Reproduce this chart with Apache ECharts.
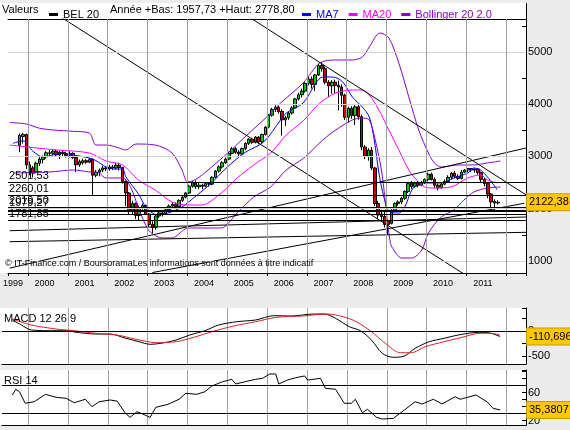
<!DOCTYPE html>
<html>
<head>
<meta charset="utf-8">
<script src="https://cdn.jsdelivr.net/npm/echarts@6/dist/echarts.min.js"></script>
<style>
  html, body { margin: 0; padding: 0; background: #ececec; }
  #wrap { position: relative; width: 570px; height: 430px; }
  .panel { position: absolute; left: 0; width: 526px; background: #fff; }
  #chart { position: absolute; left: 0; top: 0; width: 570px; height: 430px; }
</style>
</head>
<body>
<div id="wrap">
  <div class="panel" style="top:3px;height:270px"></div>
  <div class="panel" style="top:308px;height:56px"></div>
  <div class="panel" style="top:370px;height:55px"></div>
  <div id="chart"></div>
</div>
<script>
// x axis: one category per month, July 1999 .. June 2012
const months = [];
for (let k = 0; k < 156; k++) {
  const m = 6 + k;
  months.push((1999 + Math.floor(m / 12)) + '-' + String(m % 12 + 1).padStart(2, '0'));
}
const candleStart = '1999-10';

// BEL 20 monthly candles: [open, close, low, high]
const bel20 = [
  // 1999 (Oct-Dec)
  [3215, 3400, 3080, 3440], [3380, 3420, 3250, 3450], [3420, 2840, 2760, 3440],
  // 2000
  [2840, 2700, 2640, 2900], [2780, 2680, 2600, 2820], [2700, 2870, 2680, 2900], [2870, 2950, 2820, 2990],
  [2940, 2990, 2870, 3020], [2990, 3070, 2960, 3100], [3070, 3060, 3000, 3120], [3060, 3100, 3020, 3140],
  [3100, 3030, 2990, 3130], [3030, 3080, 2950, 3110], [3080, 3050, 2990, 3120], [3050, 3020, 2980, 3090],
  // 2001
  [3020, 3060, 2980, 3100], [3060, 2980, 2950, 3080], [2980, 2840, 2700, 3000], [2840, 2900, 2800, 2940],
  [2880, 2920, 2840, 2960], [2920, 2890, 2860, 2950], [2890, 2940, 2870, 2970], [2950, 2640, 2250, 2960],
  [2640, 2700, 2600, 2740], [2700, 2740, 2620, 2770], [2740, 2780, 2700, 2820], [2780, 2760, 2720, 2820],
  // 2002
  [2760, 2800, 2730, 2840], [2800, 2780, 2740, 2840], [2780, 2830, 2750, 2870], [2830, 2790, 2730, 2880],
  [2790, 2520, 2480, 2800], [2520, 2300, 2050, 2540], [2300, 1950, 1900, 2320], [1950, 2100, 1880, 2150],
  [2100, 1870, 1800, 2120], [1870, 2020, 1780, 2060], [2020, 2060, 1980, 2100], [2060, 1900, 1880, 2080],
  // 2003
  [1900, 1700, 1650, 1920], [1700, 1640, 1530, 1760], [1640, 1860, 1600, 1880], [1860, 1920, 1820, 1950],
  [1920, 1900, 1850, 1960], [1900, 1980, 1880, 2010], [1980, 2050, 1940, 2080], [2050, 2080, 2010, 2120],
  [2080, 2040, 2000, 2120], [2040, 2160, 2030, 2180], [2160, 2220, 2130, 2250], [2220, 2300, 2200, 2320],
  // 2004
  [2300, 2430, 2280, 2460], [2430, 2500, 2400, 2530], [2500, 2420, 2380, 2540], [2420, 2450, 2380, 2490],
  [2450, 2430, 2370, 2480], [2430, 2480, 2410, 2510], [2480, 2470, 2420, 2510], [2470, 2600, 2450, 2620],
  [2600, 2720, 2580, 2740], [2720, 2800, 2690, 2830], [2800, 2880, 2770, 2910], [2880, 2950, 2860, 2980],
  // 2005
  [2950, 3060, 2930, 3090], [3060, 3150, 3040, 3180], [3150, 3080, 3050, 3180], [3080, 3050, 2990, 3120],
  [3050, 3150, 3030, 3170], [3150, 3250, 3120, 3270], [3250, 3330, 3220, 3350], [3330, 3270, 3240, 3360],
  [3270, 3370, 3250, 3390], [3370, 3280, 3230, 3390], [3280, 3420, 3260, 3440], [3420, 3560, 3400, 3580],
  // 2006
  [3560, 3790, 3540, 3810], [3790, 3900, 3760, 3930], [3900, 3940, 3850, 3980], [3940, 3860, 3820, 3970],
  [3860, 3700, 3400, 3900], [3700, 3740, 3580, 3780], [3740, 3830, 3700, 3860], [3830, 3930, 3800, 3960],
  [3930, 4100, 3910, 4120], [4100, 4180, 4070, 4220], [4180, 4250, 4130, 4300], [4250, 4400, 4220, 4420],
  // 2007
  [4400, 4480, 4360, 4520], [4480, 4380, 4300, 4530], [4380, 4560, 4250, 4580], [4560, 4740, 4540, 4780],
  [4740, 4680, 4620, 4800], [4680, 4420, 4380, 4720], [4420, 4350, 4130, 4460], [4350, 4420, 4200, 4460],
  [4420, 4360, 4200, 4470], [4360, 4330, 3880, 4450], [4330, 4170, 3950, 4380], [4170, 3750, 3700, 4200],
  // 2008
  [3750, 3920, 3650, 3950], [3920, 3780, 3720, 3960], [3780, 3950, 3600, 3980], [3950, 3760, 3700, 3990],
  [3760, 3180, 3120, 3800], [3180, 3000, 2950, 3220], [3000, 3120, 2920, 3160], [3120, 2780, 2740, 3180],
  [2780, 2100, 2050, 2800], [2100, 1880, 1800, 2150], [1900, 1850, 1780, 1980], [1850, 1700, 1640, 1940],
  // 2009
  [1760, 1700, 1500, 1790], [1720, 1960, 1700, 1990], [1960, 2100, 1940, 2120], [2100, 2130, 2060, 2160],
  [2130, 2200, 2090, 2230], [2200, 2330, 2170, 2350], [2330, 2480, 2300, 2500], [2500, 2420, 2380, 2530],
  [2430, 2490, 2400, 2520], [2490, 2450, 2410, 2530], [2450, 2500, 2430, 2530], [2500, 2560, 2470, 2580],
  // 2010
  [2560, 2660, 2520, 2690], [2660, 2560, 2540, 2690], [2560, 2450, 2390, 2600], [2450, 2400, 2350, 2480],
  [2400, 2470, 2380, 2500], [2470, 2520, 2450, 2560], [2520, 2600, 2500, 2640], [2600, 2680, 2560, 2700],
  [2680, 2620, 2580, 2720], [2620, 2580, 2550, 2660], [2580, 2700, 2560, 2740], [2700, 2740, 2680, 2760],
  // 2011 (Jan-Oct)
  [2740, 2770, 2700, 2775], [2770, 2740, 2700, 2778.8], [2740, 2760, 2690, 2770], [2760, 2690, 2650, 2770],
  [2690, 2560, 2510, 2710], [2560, 2480, 2430, 2590], [2480, 2280, 2200, 2500], [2280, 2130, 2000, 2300],
  [2110, 2140, 1957.73, 2180], [2110, 2122.38, 2080, 2160]
];

// overlays: [month index from Jul 1999, value]
const ma7 = [
  [1, 3250], [4, 3300], [7, 3100], [10, 2990], [13, 3030], [16, 3060], [19, 3030], [24, 2970], [26, 2920],
  [29, 2800], [32, 2760], [34, 2760], [35, 2610], [38.8, 2280], [41, 2030], [43, 1918], [44.7, 1880],
  [47.7, 1918], [51.9, 2033], [55.7, 2224], [60.8, 2492], [64.6, 2741], [70.6, 3066], [76.5, 3277],
  [81.6, 3698], [83.3, 3832], [88.4, 4023], [92.2, 4406], [94.3, 4520], [97.3, 4520], [100.3, 4425],
  [103.2, 4138], [106.2, 3946], [108.3, 3755], [109.8, 3315], [111.2, 2684], [112.7, 2224], [114.5, 1937],
  [117.2, 1918], [119, 2033], [121.1, 2358], [123.2, 2492], [126.1, 2492], [130, 2492], [133.8, 2588],
  [138, 2684], [139.8, 2779], [141.8, 2741], [143.9, 2607], [146.9, 2358]
];
const ma20 = [
  [0, 3219], [5.3, 3181], [14.2, 3124], [24, 3066], [29, 2913], [34, 2837], [38.8, 2550], [43.8, 2358],
  [48.9, 2129], [53.6, 2071], [57.8, 2071], [63.7, 2300], [68.5, 2588], [73.5, 2837], [78.6, 3066],
  [83.3, 3411], [88.4, 3680], [93.4, 4023], [98.2, 4214], [103.2, 4272], [106.2, 4272], [108.3, 4176],
  [111.2, 3889], [114.2, 3506], [117.2, 3124], [120.2, 2741], [122, 2588], [125, 2416], [127.9, 2396],
  [132.9, 2416], [138, 2588], [141.8, 2645], [143.9, 2550], [146.9, 2492]
];
const bollUp = [
  [0, 3650], [5, 3620], [9, 3540], [13.3, 3506], [19.2, 3480], [24, 3449], [26, 3219], [29, 3219],
  [32, 3181], [35, 3124], [38, 3238], [43.8, 3219], [48.9, 3066], [51.9, 2741], [53.6, 2511], [56, 2560],
  [58.7, 2684], [66.7, 3124], [71.5, 3411], [77.4, 3755], [81.6, 4023], [88.4, 4406], [93.4, 4788],
  [98.2, 4846], [103.2, 4846], [106.2, 4903], [108.3, 5094], [111.5, 5362], [114.2, 5267], [117.2, 4788],
  [120.2, 4138], [123.2, 3506], [126.1, 3066], [127.9, 2875], [130, 2798], [135, 2837], [139.8, 2837],
  [143.9, 2875], [147.8, 2913]
];
const bollLow = [
  [1.4, 2684], [12.1, 2703], [19.2, 2741], [24, 2703], [26.9, 2684], [29, 2588], [34, 2588], [36.5, 2400],
  [39, 1980], [41.8, 1593], [44.7, 1459], [46.8, 1440], [48.9, 1440], [52.8, 1612], [54.8, 1631],
  [61.7, 1631], [63.7, 1631], [68.5, 1918], [73.5, 2224], [78.6, 2416], [83.3, 2741], [88.4, 2960],
  [94.3, 3315], [98.2, 3506], [103.2, 3698], [106.2, 3736], [108.3, 3698], [110.1, 3315], [112.1, 2684],
  [113.6, 1842], [114.5, 1401], [115.1, 1268], [118.1, 1057], [121.1, 1057], [124.1, 1210], [126.1, 1535],
  [130, 1842], [133.8, 1976], [136.8, 2167], [139.8, 2320], [143.9, 2396], [147.8, 2416]
];

// hand-drawn trend lines, each as two [month, price] ends
const trendLines = [
  [[15, 5684], [138, 703]],
  [[73, 5631], [156, 2244]],
  [[0, 863], [156, 3169]],
  [[43, 779], [155, 2104]],
  [[0, 1579], [156, 1842]],
  [[0, 1369], [156, 1549]]
];
const labelledLevels = [2501.53, 2260.01, 2019.50, 1979.27, 1781.85];
const plainLevels = [1957.73, 1893];
const priceGrid = [1000, 2000, 3000, 4000, 5000];
const macdRefs = [0];
const rsiRefs = [70, 30];

const macd = [
  [2.6, 220], [5.3, 120], [8.2, 20], [15.6, 6], [19.8, 6], [21, -20], [27.5, -60], [31.7, -60], [36.1, -140],
  [40.3, -214], [43.6, -266], [46.8, -246], [51.3, -180], [55.4, -80], [59.9, 6], [64, 120], [69.4, 186],
  [75, 220], [80.4, 306], [85.7, 300], [92.2, 340], [95.5, 340], [98.8, 254], [102.9, 86], [106.2, 6],
  [109.5, -180], [112.7, -446], [116, -526], [119.3, -500], [122.5, -346], [126.7, -214], [131.1, -146],
  [135.3, -80], [139.8, -34], [143, -26], [145.1, -46], [147.8, -110.696]
];
const macdSignal = [
  [2.6, 240], [8.2, 120], [15.6, 40], [21, 6], [27.5, -46], [33.8, -80], [39.4, -166], [45.6, -234],
  [51.3, -214], [56.6, -126], [62, -14], [68.5, 100], [75, 186], [81.3, 274], [89, 300], [96.4, 340],
  [101, 286], [105, 186], [109.5, -14], [113.6, -246], [118.1, -434], [121.3, -434], [125.5, -314],
  [131.1, -214], [136.5, -126], [141.8, -46], [145.1, -46], [147.8, -80]
];
const rsi = [
  [2.6, 56.7], [3.6, 64.8], [4.7, 61.4], [6.4, 44.9], [9.1, 47.1], [12.4, 57.7], [15.6, 53.4], [18.6, 52],
  [21, 45.7], [24.3, 50.6], [26.3, 40], [28.4, 47.1], [31.7, 49.6], [33.8, 48], [36.1, 31.4], [37.6, 24.8],
  [39.7, 32.9], [42.1, 28.1], [43.6, 24.8], [45.3, 39.1], [48.9, 43.4], [52.2, 50.6], [54.2, 59.1],
  [57.5, 57.7], [59.9, 61.4], [62, 69.6], [65.2, 75.7], [67.9, 79.1], [69.1, 72.4], [72.7, 76.7], [75, 79.1],
  [77.1, 80.6], [79.2, 86.7], [81, 86.7], [81.9, 72.4], [84.5, 78.1], [86.9, 81.4], [89.6, 83.9], [90.5, 78],
  [94.3, 80.6], [95.8, 66.3], [98.8, 64.9], [101.4, 44.9], [103.5, 44.9], [104.7, 50.6], [106.8, 31.4],
  [108.3, 36.3], [111, 24.9], [112.7, 22.4], [116, 23.4], [119.3, 35.3], [122.5, 47.1], [124.6, 43.9],
  [127.9, 50.6], [130.5, 43.9], [134.4, 54.3], [135.9, 50.6], [140.6, 56.7], [143.9, 47.1], [145.7, 37.7],
  [147.8, 35.3807]
];

const FONT = "'Liberation Sans', Arial, sans-serif";
const BLUE = '#0000ff', MAGENTA = '#ff00ff', PURPLE = '#8800cc';
const GRIDV = '#a0a0a0', FAINT = '#d4d4d4';
const comma = v => String(v).replace('.', ',');
const isYearStart = i => months[i] !== undefined && months[i].endsWith('-01');
const txt = size => ({ fontSize: size, fontWeight: 'normal', color: '#000', fontFamily: FONT });

const start = months.indexOf(candleStart);
const candles = bel20.map((d, n) => [start + n].concat(d));
const lastClose = bel20[bel20.length - 1][1];
// boundaries between December and January, in month-index units
const yearStarts = months.map((m, i) => i).filter(isYearStart).map(i => i - 0.5);

function yearAxis(gi, withLabels) {
  return {
    type: 'category', gridIndex: gi, data: months, boundaryGap: true,
    axisLine: { show: true, onZero: false, lineStyle: { color: '#000' } },
    axisTick: { show: false },
    axisLabel: withLabels ? {
      interval: i => i === 1 || (isYearStart(i) && months[i] < '2012'),
      formatter: (m, i) => i === 1 ? m.slice(0, 4) : '{y|' + m.slice(0, 4) + '}',
      fontSize: 9, color: '#000', fontFamily: FONT, margin: 6,
      rich: { y: { padding: [0, 0, 0, 30], fontSize: 9, color: '#000', fontFamily: FONT } }
    } : { show: false },
    splitLine: { show: false }
  };
}
function monthAxis(gi, topBorder) {
  return {
    type: 'value', gridIndex: gi, min: -0.5, max: months.length - 0.5, position: 'top',
    axisLine: { show: topBorder, onZero: false, lineStyle: { color: '#000' } },
    axisTick: { show: false }, axisLabel: { show: false }, splitLine: { show: false }
  };
}
function valueBox(text) {
  return {
    show: true, position: 'end', distance: 1, formatter: text,
    backgroundColor: '#ffc800', borderColor: '#c89600', borderWidth: 1,
    padding: [3, 2, 2, 2], fontSize: 11, color: '#000', fontFamily: FONT
  };
}
const hiddenLine = { color: 'rgba(0,0,0,0)', width: 0 };
function overlay(name, data, color) {
  return {
    name: name, type: 'line', xAxisIndex: 1, yAxisIndex: 0, data: data,
    symbol: 'none', smooth: 0.3, silent: true,
    lineStyle: { color: color, width: 1 }, itemStyle: { color: color }
  };
}
// reference lines of one panel, kept under the data series
function refLines(xi, yi, anchorY, hLines, hColor, withYears) {
  return {
    type: 'line', xAxisIndex: xi, yAxisIndex: yi, data: [[-5, anchorY]], z: 1, silent: true,
    symbol: 'none', lineStyle: { width: 0 },
    markLine: {
      silent: true, symbol: 'none', label: { show: false },
      data: hLines.map(v => ({ yAxis: v, lineStyle: { color: hColor, width: 1, type: 'solid' } }))
        .concat(withYears ? yearStarts.map(v => ({ xAxis: v, lineStyle: { color: GRIDV, width: 1, type: 'solid' } })) : [])
    }
  };
}

const headerLine = { type: 'line', shape: { x1: 526.5, y1: 3, x2: 526.5, y2: 19 }, style: { stroke: '#000', lineWidth: 1 } };

const option = {
  animation: false,
  backgroundColor: 'transparent',
  textStyle: { fontFamily: FONT },
  title: [
    { text: 'Valeurs', left: 2, top: 4, padding: 0, textStyle: txt(11) },
    { text: 'Année +Bas: 1957,73 +Haut: 2778,80', left: 110, top: 4, padding: 0, textStyle: txt(11) },
    { text: '© IT-Finance.com / BoursoramaLes informations sont données à titre indicatif',
      left: 5, top: 259, padding: 0, textStyle: txt(9) },
    { text: 'MACD 12 26 9', left: 4, top: 313, padding: 0, textStyle: txt(11) },
    { text: 'RSI 14', left: 4, top: 375, padding: 0, textStyle: txt(11) }
  ],
  legend: [
    {
      left: 49, top: 4, padding: 0, itemWidth: 9, itemHeight: 3, selectedMode: false,
      textStyle: { fontSize: 11, color: '#000', fontFamily: FONT, lineHeight: 13, padding: [0, 0, 8, 0] },
      data: [{ name: 'BEL 20', icon: 'rect', itemStyle: { color: '#000', borderWidth: 0 } }]
    },
    {
      left: 302, top: 4, padding: 0, itemWidth: 9, itemHeight: 3, itemGap: 10, selectedMode: false,
      textStyle: { fontSize: 11, fontFamily: FONT, lineHeight: 13, padding: [0, 0, 8, 0] },
      data: [
        { name: 'MA7', icon: 'rect', textStyle: { color: BLUE } },
        { name: 'MA20', icon: 'rect', textStyle: { color: MAGENTA } },
        { name: 'Bollinger 20 2.0', icon: 'rect', textStyle: { color: PURPLE } }
      ]
    }
  ],
  graphic: [headerLine],
  grid: [
    { left: 2, right: 44, top: 19, height: 254 },
    { left: 2, right: 44, top: 308, height: 56 },
    { left: 2, right: 44, top: 370, height: 55 }
  ],
  xAxis: [
    yearAxis(0, true), monthAxis(0, true),
    yearAxis(1, false), monthAxis(1, false),
    yearAxis(2, false), monthAxis(2, false),
    {
      // same months shifted so that each January boundary falls on a multiple of 12: year ticks under the price panel
      type: 'value', gridIndex: 0, position: 'bottom', min: 6, max: months.length + 6,
      minInterval: 12, maxInterval: 12,
      axisLine: { show: false, onZero: false },
      axisTick: { show: true, length: 3, lineStyle: { color: '#000' } },
      axisLabel: { show: false }, splitLine: { show: false }
    }
  ],
  yAxis: [
    {
      type: 'value', gridIndex: 0, position: 'right', min: 770, max: 5630, minInterval: 500, maxInterval: 500,
      axisLine: { show: true, onZero: false, lineStyle: { color: '#000' } },
      axisTick: { inside: true, length: 4, lineStyle: { color: '#000' } },
      axisLabel: { formatter: v => v % 1000 === 0 ? String(v) : '', fontSize: 11, color: '#000', fontFamily: FONT, margin: 2 },
      splitLine: { show: false }
    },
    {
      type: 'value', gridIndex: 1, position: 'right', min: -660, max: 460, minInterval: 250, maxInterval: 250,
      axisLine: { show: true, onZero: false, lineStyle: { color: '#000' } },
      axisTick: { inside: true, length: 4, lineStyle: { color: '#000' } },
      axisLabel: { formatter: v => v % 500 === 0 ? String(v) : '', fontSize: 11, color: '#000', fontFamily: FONT, margin: 2 },
      splitLine: { show: false }
    },
    {
      type: 'value', gridIndex: 2, position: 'right', min: 13.9, max: 92.4, minInterval: 10, maxInterval: 10,
      axisLine: { show: true, onZero: false, lineStyle: { color: '#000' } },
      axisTick: { inside: true, length: 4, lineStyle: { color: '#000' } },
      axisLabel: { formatter: v => (v === 20 || v === 40 || v === 60) ? String(v) : '', fontSize: 11, color: '#000', fontFamily: FONT, margin: 2 },
      splitLine: { show: false }
    }
  ],
  series: [
    refLines(1, 0, 1000, priceGrid, FAINT, true),
    refLines(3, 1, 0, macdRefs, '#000', false),
    refLines(5, 2, 50, rsiRefs, '#000', false),
    {
      name: 'BEL 20', type: 'candlestick', xAxisIndex: 1, yAxisIndex: 0, data: candles, barWidth: 3,
      itemStyle: { color: '#00c800', color0: '#d00000', borderColor: '#000', borderColor0: '#000', borderWidth: 1 },
      markLine: {
        silent: true, symbol: 'none',
        lineStyle: { color: '#000', width: 1, type: 'solid' },
        label: { position: 'insideStartTop', distance: [1, 1], fontSize: 11, color: '#000', fontFamily: FONT,
                 formatter: p => comma(p.value.toFixed(2)) },
        data: labelledLevels.map(v => ({ yAxis: v }))
          .concat(plainLevels.map(v => ({ yAxis: v, label: { show: false } })))
          .concat([{ yAxis: lastClose, lineStyle: hiddenLine, label: valueBox(comma(lastClose)) }])
      }
    },
    overlay('MA7', ma7, BLUE),
    overlay('MA20', ma20, MAGENTA),
    overlay('Bollinger 20 2.0', bollUp, PURPLE),
    overlay('Bollinger 20 2.0', bollLow, PURPLE)
  ].concat(trendLines.map(pts => ({
    type: 'line', xAxisIndex: 1, yAxisIndex: 0, data: pts, symbol: 'none', silent: true,
    lineStyle: { color: '#000', width: 1 }
  }))).concat([
    {
      name: 'MACD', type: 'line', xAxisIndex: 3, yAxisIndex: 1, data: macd, symbol: 'none', smooth: 0.3,
      lineStyle: { color: '#000', width: 1 }, z: 3,
      markLine: {
        silent: true, symbol: 'none', label: { show: false },
        data: [{ yAxis: macd[macd.length - 1][1], lineStyle: hiddenLine, label: valueBox(comma(macd[macd.length - 1][1])) }]
      }
    },
    {
      name: 'Signal', type: 'line', xAxisIndex: 3, yAxisIndex: 1, data: macdSignal, symbol: 'none', smooth: 0.3,
      lineStyle: { color: '#dd2222', width: 1 }
    },
    {
      name: 'RSI', type: 'line', xAxisIndex: 5, yAxisIndex: 2, data: rsi, symbol: 'none',
      lineStyle: { color: '#000', width: 1 },
      markLine: {
        silent: true, symbol: 'none', label: { show: false },
        data: [{ yAxis: rsi[rsi.length - 1][1], lineStyle: hiddenLine, label: valueBox(comma(rsi[rsi.length - 1][1])) }]
      }
    }
  ])
};

const chart = echarts.init(document.getElementById('chart'));
chart.setOption(option);

// year lines in the MACD and RSI panels: x from the price panel's month scale (same horizontal layout),
// y span from each panel's own value axis
const panelSpans = [
  [chart.convertToPixel({ yAxisIndex: 1 }, 460), chart.convertToPixel({ yAxisIndex: 1 }, -660)],
  [chart.convertToPixel({ yAxisIndex: 2 }, 92.4), chart.convertToPixel({ yAxisIndex: 2 }, 13.9)]
];
const yearGraphics = [];
yearStarts.forEach(v => {
  const x = Math.round(chart.convertToPixel({ xAxisIndex: 1 }, v)) + 0.5;
  panelSpans.forEach(([y1, y2]) => {
    yearGraphics.push({ type: 'line', z: 0, silent: true, shape: { x1: x, y1: y1, x2: x, y2: y2 },
                        style: { stroke: GRIDV, lineWidth: 1 } });
  });
});
chart.setOption({ graphic: [headerLine].concat(yearGraphics) });
</script>
</body>
</html>
